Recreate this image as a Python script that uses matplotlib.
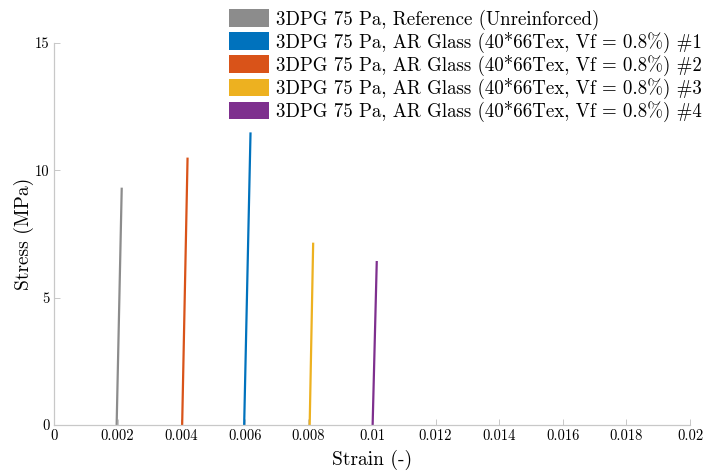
import matplotlib
matplotlib.use("Agg")
import matplotlib.pyplot as plt
from matplotlib.patches import Patch

plt.rcParams["font.family"] = ["cmr10", "DejaVu Serif"]
plt.rcParams["mathtext.fontset"] = "cm"
plt.rcParams["axes.formatter.use_mathtext"] = True

labels = [
    "3DPG 75 Pa, Reference (Unreinforced)",
    "3DPG 75 Pa, AR Glass (40*66Tex, Vf = 0.8%) #1",
    "3DPG 75 Pa, AR Glass (40*66Tex, Vf = 0.8%) #2",
    "3DPG 75 Pa, AR Glass (40*66Tex, Vf = 0.8%) #3",
    "3DPG 75 Pa, AR Glass (40*66Tex, Vf = 0.8%) #4",
]
colors = ["#8c8c8c", "#0072BD", "#D95319", "#EDB120", "#7E2F8E"]

# strain at zero stress, strain at peak, peak stress (MPa)
strain_start = [0.00197, 0.00598, 0.00403, 0.00804, 0.01002]
strain_peak = [0.00213, 0.00618, 0.00420, 0.00815, 0.01015]
stress_peak = [9.32, 11.49, 10.50, 7.16, 6.44]

xticks = [0, 0.002, 0.004, 0.006, 0.008, 0.01, 0.012, 0.014, 0.016, 0.018, 0.02]
xticklabels = ["0", "0.002", "0.004", "0.006", "0.008", "0.01", "0.012",
               "0.014", "0.016", "0.018", "0.02"]
yticks = [0, 5, 10, 15]

fig = plt.figure(figsize=(7.05, 4.73), dpi=100)
ax = fig.add_axes([54 / 705, 48 / 473, 636 / 705, 382 / 473])

for x0, x1, s, c in zip(strain_start, strain_peak, stress_peak, colors):
    ax.plot([x0, x1], [0, s], color=c, lw=1.6, solid_capstyle="butt")

ax.set_xlim(0, 0.02)
ax.set_ylim(0, 15)
ax.set_xticks(xticks)
ax.set_xticklabels(xticklabels)
ax.set_yticks(yticks)
ax.set_yticklabels([str(t) for t in yticks])

axcol = "#c8c8c8"
for side in ["top", "right"]:
    ax.spines[side].set_visible(False)
for side in ["left", "bottom"]:
    ax.spines[side].set_color(axcol)
    ax.spines[side].set_linewidth(0.9)
ax.tick_params(direction="in", length=4.5, width=0.7, color=axcol,
               labelsize=10.5, labelcolor="black", pad=3)

ax.set_xlabel("Strain (-)", fontsize=14, labelpad=5)
ax.set_ylabel("Stress (MPa)", fontsize=14, labelpad=1)

handles = [Patch(facecolor=c, edgecolor="none") for c in colors]
fig.legend(handles, labels, loc="upper left",
           bbox_to_anchor=(218 / 705, 1.0 + 2 / 473), frameon=False,
           fontsize=13.6, handlelength=2.1, handleheight=1.05,
           handletextpad=0.38, labelspacing=0.1, borderaxespad=0.2)

fig.savefig("out.png", dpi=100)
